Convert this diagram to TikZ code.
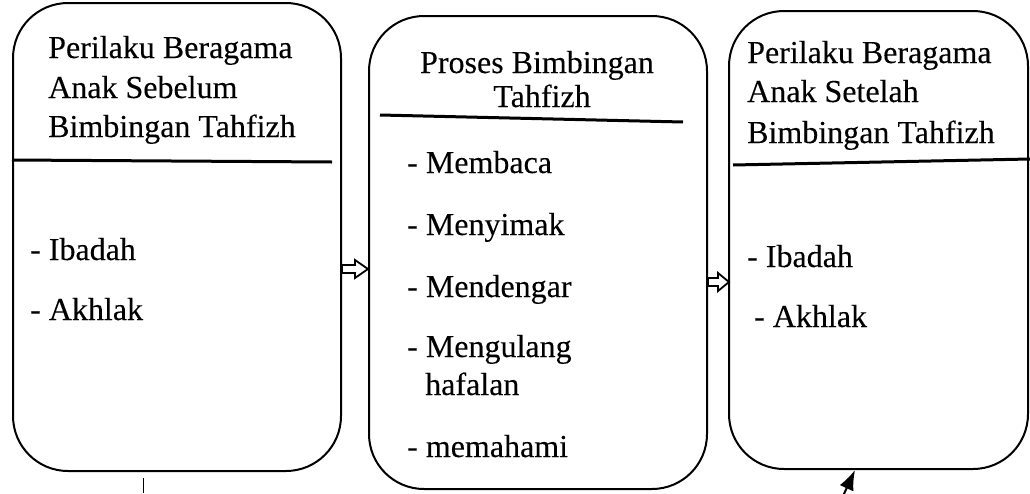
\documentclass[tikz,border=0pt]{standalone}
\usepackage{fontspec}
\setmainfont{Liberation Serif}[FakeBold=0.15]
\usetikzlibrary{arrows.meta}
\begin{document}
\begin{tikzpicture}[x=1pt,y=-1pt,
  box/.style={draw, line width=2pt, rounded corners=55pt, anchor=north west, inner sep=0pt},
  divider/.style={line width=3pt},
  txt/.style={anchor=base west, inner sep=0pt, font=\fontsize{32}{39.5}\selectfont},
  ctxt/.style={anchor=base, inner sep=0pt, font=\fontsize{32}{39.5}\selectfont},
  blockarrow/.style={draw, line width=1.8pt, fill=white, line join=miter},
  pointer/.style={line width=2pt, -{Latex[length=20pt,width=15pt]}}]
\useasboundingbox (0,0) rectangle (1030,493);
% boxes
\node[box, minimum width=328pt, minimum height=468pt] (b1) at (12,2) {};
\node[box, minimum width=338pt, minimum height=473pt] (b2) at (368,15) {};
\node[box, minimum width=299pt, minimum height=458pt] (b3) at (728,10) {};
% dividers
\draw[divider] (12,160) -- (332,162);
\draw[divider] (380,115) -- (683,122);
\draw[divider] (733,165) -- (1030,159);
% box 1 text
\node[txt] (t1a) at (48,58) {Perilaku Beragama};
\node[txt] (t1b) at (48,98) {Anak Sebelum};
\node[txt] (t1c) at (48,137) {Bimbingan Tahfizh};
\node[txt] (i1a) at (30,260) {- Ibadah};
\node[txt] (i1b) at (30,320) {- Akhlak};
% box 2 text
\node[ctxt] (t2a) at (537,73) {Proses Bimbingan};
\node[ctxt] (t2b) at (542,107) {Tahfizh};
\node[txt] (i2a) at (407,173) {- Membaca};
\node[txt] (i2b) at (407,235) {- Menyimak};
\node[txt] (i2c) at (407,297) {- Mendengar};
\node[txt] (i2d) at (407,357) {- Mengulang};
\node[txt] (i2e) at (425,395) {hafalan};
\node[txt] (i2f) at (407,457) {- memahami};
% box 3 text
\node[txt] (t3a) at (747,63) {Perilaku Beragama};
\node[txt] (t3b) at (747,102) {Anak Setelah};
\node[txt] (t3c) at (747,143) {Bimbingan Tahfizh};
\node[txt] (i3a) at (747,267) {- Ibadah};
\node[txt] (i3b) at (754,327) {- Akhlak};
% block arrows between boxes
\coordinate (a1) at (b1.east |- 0,269);
\coordinate (a2) at (b2.east |- 0,282);
\draw[blockarrow] (a1) ++(0,-4) -- ++(13,0) -- ++(0,-5) -- ++(13,9) -- ++(-13,9) -- ++(0,-5) -- ++(-13,0) -- cycle;
\draw[blockarrow] (a2) ++(0,-4) -- ++(10,0) -- ++(0,-5) -- ++(11,9) -- ++(-11,9) -- ++(0,-5) -- ++(-10,0) -- cycle;
% small marks at the bottom
\coordinate (m1) at (143,478);
\coordinate (m2) at (143,493);
\draw[line width=1pt] (m1) -- (m2);
\coordinate (p1) at (843,496);
\coordinate (p2) at (b3.south -| 855,0);
\draw[pointer] (p1) -- (p2);
\end{tikzpicture}
\end{document}
